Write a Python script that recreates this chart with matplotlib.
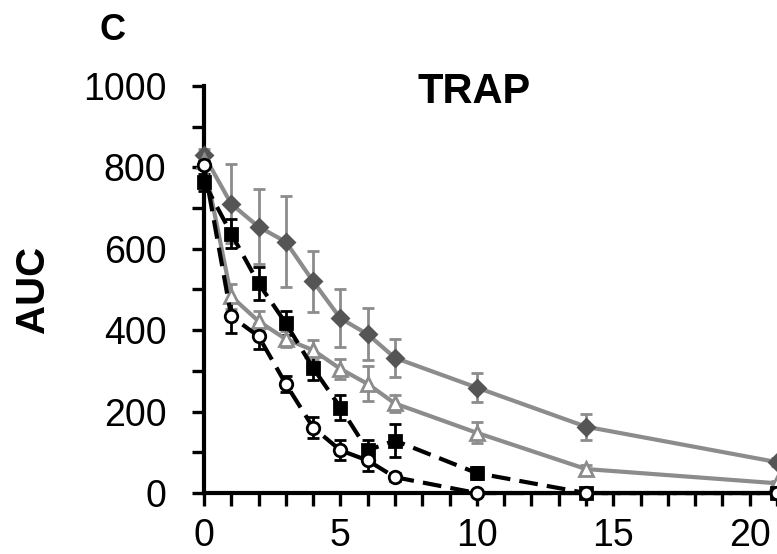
import matplotlib

matplotlib.use("Agg")

import matplotlib.pyplot as plt
from matplotlib.ticker import MultipleLocator

plt.rcParams["font.family"] = ["Liberation Sans", "DejaVu Sans"]

days = [0, 1, 2, 3, 4, 5, 6, 7, 10, 14, 21]

# gray solid, filled diamonds
diamond_auc = [830, 710, 654, 617, 520, 429, 390, 332, 259, 163, 76]
diamond_err = [15, 97, 92, 112, 75, 71, 64, 46, 36, 32, 10]

# gray solid, open triangles
triangle_auc = [815, 483, 422, 378, 351, 305, 268, 220, 148, 59, 24]
triangle_err = [10, 30, 25, 20, 25, 25, 43, 22, 26, 10, 6]

# black dashed, filled squares
square_auc = [763, 637, 515, 417, 307, 210, 105, 129, 49, 0, 0]
square_err = [20, 35, 40, 30, 30, 30, 25, 40, 15, 0, 0]

# black dashed, open circles
circle_auc = [805, 434, 385, 268, 161, 105, 80, 39, 0, 0, 0]
circle_err = [10, 40, 30, 20, 25, 25, 25, 10, 0, 0, 0]

gray = "#8c8c8c"
dark_gray = "#555555"

fig = plt.figure(figsize=(7.77, 5.54), dpi=100)
ax = fig.add_axes([0.2625, 0.110, 0.7375, 0.735])

series = [
    (diamond_auc, diamond_err, gray, "-", "D", dark_gray, 8),
    (triangle_auc, triangle_err, gray, "-", "^", "white", 10),
    (square_auc, square_err, "black", "--", "s", "black", 8),
    (circle_auc, circle_err, "black", "--", "o", "white", 9),
]
for auc, err, color, ls, marker, face, ms in series:
    line = ax.errorbar(days, auc, yerr=err, color=color, ecolor=color,
                       elinewidth=2, capsize=4, capthick=2,
                       linewidth=3, linestyle=ls, marker=marker,
                       markersize=ms, markerfacecolor=face,
                       markeredgecolor=color if face == "white" else face,
                       markeredgewidth=2, clip_on=False, zorder=3)
    if ls == "--":
        line.lines[0].set_dashes([4.5, 2.2])

ax.set_xlim(0, 21)
ax.set_ylim(0, 1000)
ax.xaxis.set_major_locator(MultipleLocator(5))
ax.xaxis.set_minor_locator(MultipleLocator(1))
ax.yaxis.set_major_locator(MultipleLocator(200))
ax.yaxis.set_minor_locator(MultipleLocator(100))

for side in ["top", "right"]:
    ax.spines[side].set_visible(False)
for side in ["left", "bottom"]:
    ax.spines[side].set_linewidth(3)
    ax.spines[side].set_zorder(2)

ax.tick_params(axis="both", which="both", direction="out", length=9,
               width=2.4, labelsize=27)
ax.tick_params(axis="y", pad=18)
ax.tick_params(axis="x", pad=9)

ax.set_ylabel("AUC", fontsize=29, fontweight="bold")
ax.yaxis.set_label_coords(-0.265, 0.5)
ax.text(0.372, 0.985, "TRAP", transform=ax.transAxes, fontsize=30,
        fontweight="bold", ha="left", va="center")
fig.text(0.145, 0.945, "C", fontsize=26, fontweight="bold",
         ha="center", va="center")

fig.savefig("out.png", dpi=100)
